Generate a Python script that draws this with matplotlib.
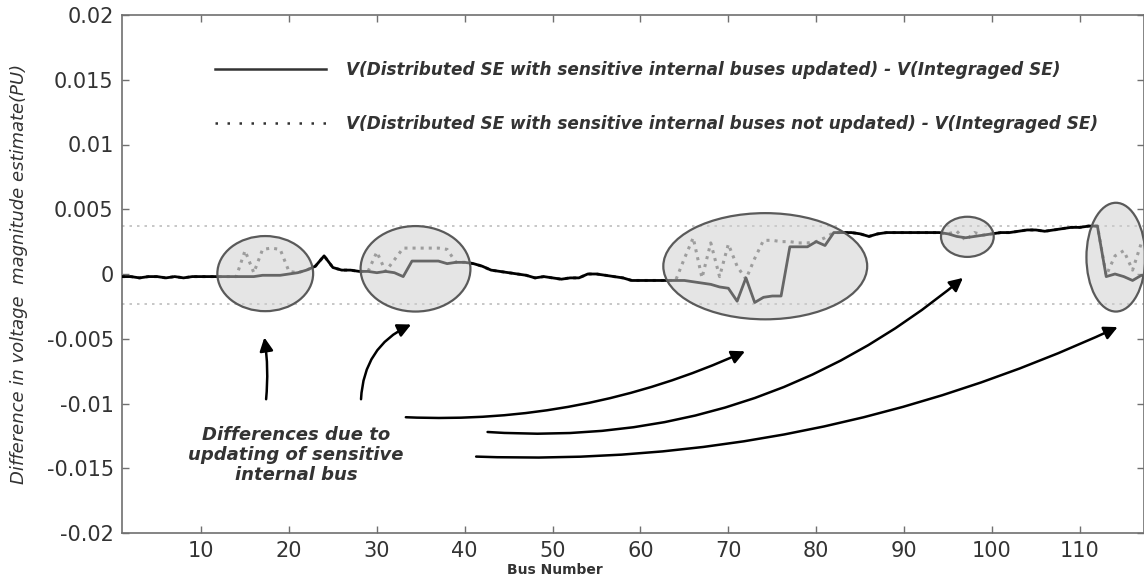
import numpy as np
import matplotlib
matplotlib.use("Agg")
from matplotlib import pyplot as plt
import matplotlib.patches as patches
from matplotlib.lines import Line2D

# bus numbers 1..118
bus = np.arange(1, 119)

# V(distributed SE, sensitive buses updated) - V(integrated SE)
v_updated = [
    -0.0002, -0.0002, -0.0003, -0.0002, -0.0002, -0.0003, -0.0002, -0.0003, -0.0002, -0.0002,  # 1-10
    -0.0002, -0.0002, -0.0002, -0.0002, -0.0002, -0.0002, -0.0001, -0.0001, -0.0001, 0.0000,   # 11-20
    0.0001, 0.0003, 0.0006, 0.0014, 0.0005, 0.0003, 0.0003, 0.0002, 0.0002, 0.0001,            # 21-30
    0.0002, 0.0001, -0.0002, 0.0010, 0.0010, 0.0010, 0.0010, 0.0008, 0.0009, 0.0009,           # 31-40
    0.0008, 0.0006, 0.0003, 0.0002, 0.0001, 0.0000, -0.0001, -0.0003, -0.0002, -0.0003,        # 41-50
    -0.0004, -0.0003, -0.0003, 0.0000, 0.0000, -0.0001, -0.0002, -0.0003, -0.0005, -0.0005,    # 51-60
    -0.0005, -0.0005, -0.0005, -0.0005, -0.0005, -0.0006, -0.0007, -0.0008, -0.0010, -0.0011,  # 61-70
    -0.0021, -0.0003, -0.0022, -0.0018, -0.0017, -0.0017, 0.0021, 0.0021, 0.0021, 0.0025,      # 71-80
    0.0022, 0.0032, 0.0032, 0.0032, 0.0031, 0.0029, 0.0031, 0.0032, 0.0032, 0.0032,            # 81-90
    0.0032, 0.0032, 0.0032, 0.0032, 0.0031, 0.0029, 0.0028, 0.0029, 0.0030, 0.0031,            # 91-100
    0.0032, 0.0032, 0.0033, 0.0034, 0.0034, 0.0033, 0.0034, 0.0035, 0.0036, 0.0036,            # 101-110
    0.0037, 0.0037, -0.0002, 0.0000, -0.0002, -0.0005, -0.0001, -0.0003,                       # 111-118
]

# V(distributed SE, sensitive buses not updated) - V(integrated SE)
v_not_updated = [
    -0.0002, -0.0002, -0.0003, -0.0002, -0.0002, -0.0003, -0.0002, -0.0003, -0.0002, -0.0002,  # 1-10
    -0.0002, -0.0002, -0.0002, -0.0002, 0.0018, 0.0001, 0.0019, 0.0020, 0.0019, 0.0002,        # 11-20
    0.0001, 0.0003, 0.0006, 0.0014, 0.0005, 0.0003, 0.0003, 0.0002, 0.0002, 0.0017,            # 21-30
    0.0002, 0.0011, 0.0020, 0.0020, 0.0020, 0.0020, 0.0020, 0.0019, 0.0009, 0.0009,            # 31-40
    0.0008, 0.0006, 0.0003, 0.0002, 0.0001, 0.0000, -0.0001, -0.0003, -0.0002, -0.0003,        # 41-50
    -0.0004, -0.0003, -0.0003, 0.0000, 0.0000, -0.0001, -0.0002, -0.0003, -0.0005, -0.0005,    # 51-60
    -0.0005, -0.0005, -0.0005, -0.0005, 0.0012, 0.0028, -0.0003, 0.0024, -0.0002, 0.0023,      # 61-70
    0.0006, -0.0004, 0.0012, 0.0026, 0.0026, 0.0025, 0.0025, 0.0024, 0.0024, 0.0025,           # 71-80
    0.0028, 0.0032, 0.0032, 0.0032, 0.0031, 0.0029, 0.0031, 0.0032, 0.0032, 0.0032,            # 81-90
    0.0032, 0.0032, 0.0032, 0.0032, 0.0031, 0.0033, 0.0026, 0.0032, 0.0030, 0.0031,            # 91-100
    0.0032, 0.0032, 0.0033, 0.0034, 0.0034, 0.0033, 0.0034, 0.0035, 0.0036, 0.0036,            # 101-110
    0.0037, 0.0037, -0.0001, 0.0014, 0.0018, 0.0003, 0.0024, 0.0020,                           # 111-118
]

# faint reference levels
ref_levels = [0.0037, -0.0023]

x_ticks = list(range(10, 111, 10))
y_ticks = [0.02, 0.015, 0.01, 0.005, 0, -0.005, -0.01, -0.015, -0.02]
y_tick_labels = ["0.02", "0.015", "0.01", "0.005", "0", "-0.005", "-0.01", "-0.015", "-0.02"]

legend_labels = [
    "V(Distributed SE with sensitive internal buses updated) - V(Integraged SE)",
    "V(Distributed SE with sensitive internal buses not updated) - V(Integraged SE)",
]
note_text = "Differences due to\nupdating of sensitive\ninternal bus"

# highlighted regions: (center bus, center value, width, height)
regions = [
    (17.3, 0.00003, 10.9, 0.0058),
    (34.4, 0.0004, 12.5, 0.0066),
    (74.2, 0.0006, 23.2, 0.0082),
    (97.2, 0.00287, 6.0, 0.0031),
    (114.1, 0.0013, 6.7, 0.0084),
]
# arrows: (start, end, curvature)
arrows = [
    ((17.4, -0.00967), (17.2, -0.0049), 0.06),
    ((28.2, -0.00967), (33.9, -0.0039), -0.3),
    ((33.3, -0.01106), (71.9, -0.00597), 0.12),
    ((42.6, -0.0122), (96.7, -0.0003), 0.2),
    ((41.3, -0.0141), (114.3, -0.0041), 0.12),
]

TXT = "#333333"
SPINE = "#707070"

fig = plt.figure(figsize=(11.44, 5.78), dpi=100)
ax = fig.add_axes([122 / 1144, 1 - 533 / 578, (1144 - 122) / 1144, (533 - 15) / 578])

for lev in ref_levels:
    ax.axhline(lev, color="#bdbdbd", linestyle=(0, (1.5, 3)), lw=1.2, zorder=1)

ax.plot(bus, v_not_updated, color="#6e6e6e", linestyle=":", lw=2.2, zorder=2)
ax.plot(bus, v_updated, color="black", lw=2.0, zorder=3)

for cx, cy, w, h in regions:
    ell = patches.Ellipse((cx, cy), w, h, facecolor=(0.8, 0.8, 0.8, 0.5),
                          edgecolor="#5a5a5a", lw=1.6, zorder=4)
    ax.add_patch(ell)

for start, end, rad in arrows:
    ax.annotate("", xy=end, xytext=start,
                arrowprops=dict(arrowstyle="-|>", color="black", lw=1.8,
                                mutation_scale=20, shrinkA=0, shrinkB=0,
                                connectionstyle=f"arc3,rad={rad}"),
                zorder=5)

ax.text(20.8, -0.0140, note_text, ha="center", va="center", fontsize=13,
        fontweight="bold", fontstyle="italic", color=TXT, linespacing=1.15)

handles = [
    Line2D([], [], color="#333333", lw=1.8),
    Line2D([], [], color="#333333", lw=1.8, linestyle=(0, (1, 3.8))),
]
leg = ax.legend(handles, legend_labels, loc="upper left", bbox_to_anchor=(0.084, 0.924),
                frameon=False, handlelength=6.6, handletextpad=1.15, labelspacing=2.1,
                borderaxespad=0, prop=dict(size=12.2, weight="bold", style="italic"))
for t in leg.get_texts():
    t.set_color(TXT)

ax.set_xlim(1, 117.3)
ax.set_ylim(-0.02, 0.02)
ax.set_xticks(x_ticks)
ax.set_yticks(y_ticks)
ax.set_yticklabels(y_tick_labels)
ax.tick_params(direction="in", top=True, right=True, length=5, width=1,
               color=SPINE, labelsize=15, labelcolor=TXT, pad=6)
for sp in ax.spines.values():
    sp.set_color(SPINE)
    sp.set_linewidth(1.2)

ax.set_xlabel("Bus Number", fontsize=10, fontweight="bold", color=TXT)
ax.xaxis.set_label_coords(0.424, -0.057)
ax.set_ylabel("Difference in voltage  magnitude estimate(PU)", fontsize=13,
              fontstyle="italic", color=TXT)
ax.yaxis.set_label_coords(-0.092, 0.5)

fig.savefig("out.png", dpi=100)
